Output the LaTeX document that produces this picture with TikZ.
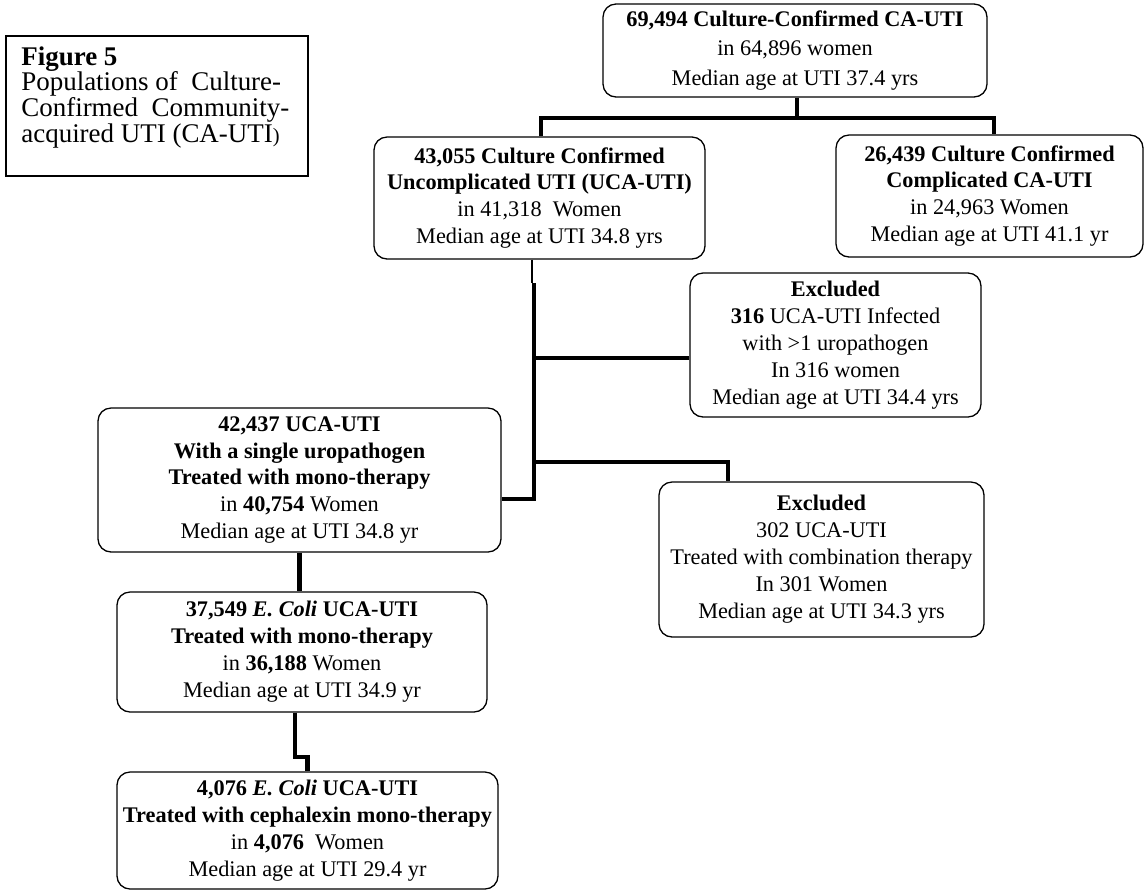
\documentclass[tikz,border=0pt]{standalone}
\usepackage{fontspec}
\setmainfont{Liberation Serif}
\newdimen\pxu
\pxu=0.538pt
\tikzset{
  flowbox/.style={draw, rounded corners=7pt, line width=0.7pt, align=center, inner sep=0pt, font=\fontsize{12}{14.5}\selectfont},
  figtext/.style={align=left, inner sep=0pt, font=\fontsize{14.5}{13.8}\selectfont},
  link/.style={line width=2.2pt},
}
\begin{document}
\begin{tikzpicture}[x=\pxu, y=-\pxu]
\useasboundingbox (0,0) rectangle (1145,890);

% caption
\node[figtext, anchor=north west] (fig5) at (21,46) {\textbf{Figure 5}\\Populations of\ \ Culture-\\Confirmed\ \ Community-\\acquired UTI (CA-UTI{\fontsize{11}{11}\selectfont)}};
\draw[line width=0.8pt] (6,36) rectangle (308,176);

% top level
\node[flowbox, minimum width=384*\pxu, minimum height=93*\pxu, font=\fontsize{12}{16.1}\selectfont] (total) at (795,50.5) {\textbf{69,494 Culture-Confirmed CA-UTI}\\in 64,896 women\\Median age at UTI 37.4 yrs};
\node[flowbox, minimum width=331*\pxu, minimum height=122*\pxu] (uncomp) at (539.5,198) {\textbf{43,055 Culture Confirmed}\\\textbf{Uncomplicated UTI (UCA-UTI)}\\in 41,318\ \ Women\\Median age at UTI 34.8 yrs};
\node[flowbox, minimum width=307*\pxu, minimum height=122*\pxu] (comp) at (989.5,196) {\textbf{26,439 Culture Confirmed}\\\textbf{Complicated CA-UTI}\\in 24,963 Women\\Median age at UTI 41.1 yr};
\coordinate (top) at (797,118);
\coordinate (tl) at (541,118);
\coordinate (tr) at (994,118);
\draw[link] (total.south -| top) -- (top);
\draw[link] (tl |- uncomp.north) -- (tl) -- (tr) -- (tr |- comp.north);

% exclusions
\node[flowbox, minimum width=291*\pxu, minimum height=144*\pxu] (excl1) at (835.5,345) {\textbf{Excluded}\\\textbf{316} UCA-UTI Infected\\ with >1 uropathogen\\In 316 women\\Median age at UTI 34.4 yrs};
\node[flowbox, minimum width=325*\pxu, minimum height=155*\pxu] (excl2) at (821.5,559.5) {\textbf{Excluded}\\302 UCA-UTI\\Treated with combination therapy\\In 301 Women\\Median age at UTI 34.3 yrs};

% remaining populations
\node[flowbox, minimum width=403*\pxu, minimum height=144*\pxu] (single) at (299.5,480) {\textbf{42,437 UCA-UTI}\\\textbf{With a single uropathogen}\\\textbf{Treated with mono-therapy}\\in \textbf{40,754} Women\\Median age at UTI 34.8 yr};
\node[flowbox, minimum width=370*\pxu, minimum height=120*\pxu] (ecoli) at (302,652) {\textbf{37,549 \textit{E. Coli} UCA-UTI}\\\textbf{Treated with mono-therapy}\\in \textbf{36,188} Women\\Median age at UTI 34.9 yr};
\node[flowbox, minimum width=381*\pxu, minimum height=117*\pxu] (ceph) at (307.5,830.5) {\textbf{4,076 \textit{E. Coli} UCA-UTI}\\\textbf{Treated with cephalexin mono-therapy}\\in \textbf{4,076}\ \ Women\\Median age at UTI 29.4 yr};

% trunk and branches
\coordinate (trunk) at (534,499);
\coordinate (t0) at (534,283);
\coordinate (b1) at (534,358);
\coordinate (b2) at (534,462);
\coordinate (b2e) at (728,462);
\coordinate (k) at (295,757);
\draw[line width=1.2pt] ([xshift=-1]t0 |- uncomp.south) -- ([xshift=-1]t0);
\draw[link] (t0) -- (trunk) -- (trunk -| single.east);
\draw[link] (b1) -- (b1 -| excl1.west);
\draw[link] (b2) -- (b2e) -- (b2e |- excl2.north);
\draw[link] (single.south) -- (single.south |- ecoli.north);
\draw[link] (k |- ecoli.south) -- (k) -| (ceph.north);
\end{tikzpicture}
\end{document}
